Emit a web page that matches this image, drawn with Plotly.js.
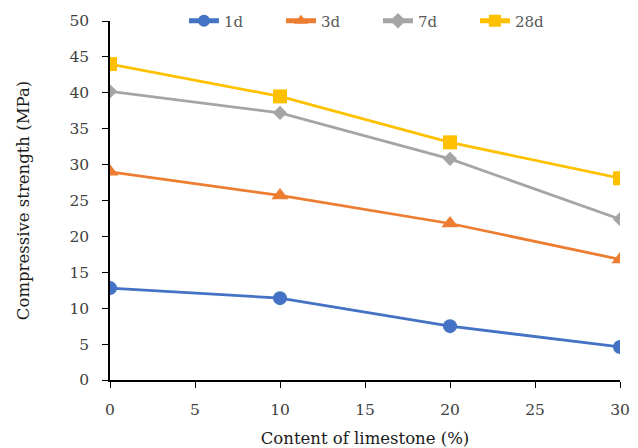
<!DOCTYPE html>
<html><head><meta charset="utf-8">
<script src="https://cdn.plot.ly/plotly-3.0.1.min.js"></script>
<style>html,body{margin:0;padding:0;background:#fff}#chart{width:638px;height:448px}</style>
</head><body><div id="chart"></div>
<script>
const limestone = [0, 10, 20, 30];
const s1d = [12.8, 11.4, 7.5, 4.6];
const s3d = [29.0, 25.7, 21.8, 16.8];
const s7d = [40.2, 37.2, 30.8, 22.4];
const s28d = [44.0, 39.5, 33.1, 28.1];
const names = ['1d', '3d', '7d', '28d'];
const colors = ['#4472C4', '#ED7D31', '#A5A5A5', '#FFC000'];
const symbols = ['circle', 'triangle-up', 'diamond', 'square'];
const sizes = [14, 15, 11, 14];
const series = [s1d, s3d, s7d, s28d];
const traces = series.map((s, i) => ({
  x: limestone, y: s, name: names[i], type: 'scatter', mode: 'lines+markers',
  line: {color: colors[i], width: 2.75},
  marker: {color: colors[i], symbol: symbols[i], size: sizes[i]}
}));
const tickfont = {family: 'DejaVu Serif', size: 15.5, color: '#404040'};
const titlefont = {family: 'DejaVu Serif', size: 16.5, color: '#1a1a1a'};
Plotly.newPlot('chart', traces, {
  width: 638, height: 448,
  margin: {l: 110, r: 18, t: 21, b: 68, autoexpand: false},
  paper_bgcolor: '#fff', plot_bgcolor: '#fff',
  font: tickfont,
  showlegend: true,
  legend: {orientation: 'h', x: 0.145, xanchor: 'left', y: 1.0, yanchor: 'middle',
    entrywidth: 52, entrywidthmode: 'pixels', itemsizing: 'constant',
    font: {family: 'DejaVu Serif', size: 15, color: '#595959'}, bgcolor: 'rgba(0,0,0,0)'},
  xaxis: {range: [0, 30], dtick: 5, tick0: 0, showgrid: false, zeroline: false,
    showline: true, linecolor: '#000', linewidth: 1.5, ticks: 'outside', ticklen: 6, tickcolor: '#000',
    ticklabelstandoff: 9, tickfont: tickfont,
    title: {text: 'Content of limestone (%)', font: titlefont, standoff: 14}},
  yaxis: {range: [0, 50], dtick: 5, tick0: 0, showgrid: false, zeroline: false,
    showline: true, linecolor: '#000', linewidth: 1.5, ticks: 'outside', ticklen: 6, tickcolor: '#000',
    ticklabelstandoff: 10, tickfont: tickfont,
    title: {text: 'Compressive strength (MPa)', font: titlefont, standoff: 36}}
}, {displayModeBar: false});
</script></body></html>
